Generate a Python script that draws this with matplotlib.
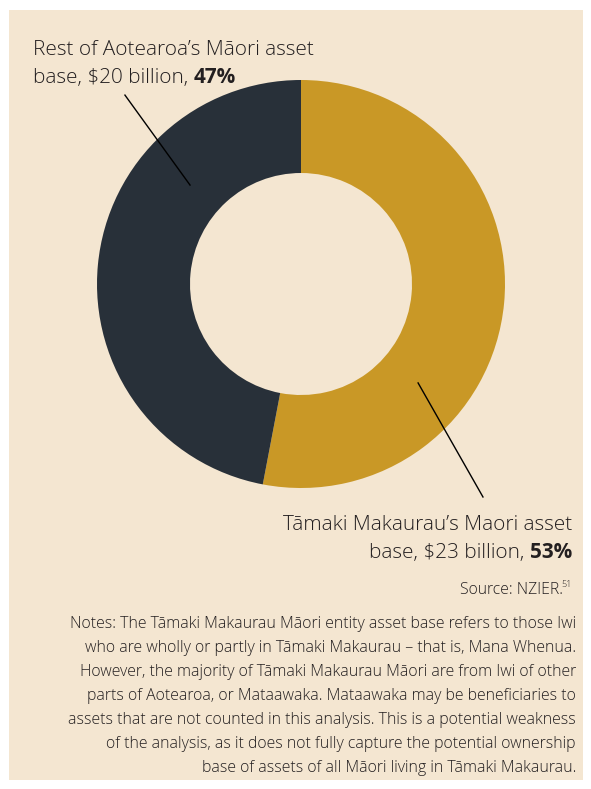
import matplotlib
matplotlib.use("Agg")
import matplotlib.pyplot as plt
from matplotlib.patches import Rectangle

# Asset base split (NZ$ billion and share of total, %)
segments = ["Tāmaki Makaurau", "Rest of Aotearoa"]
values = [23, 20]
shares = [53, 47]
colors = ["#C99826", "#283039"]

BG = "#F4E6D1"
W, H = 591, 789
fig = plt.figure(figsize=(W / 100, H / 100), dpi=100)
fig.patch.set_facecolor("white")
fig.add_artist(Rectangle((9 / W, 1 - 780 / H), 574 / W, 770 / H,
                         transform=fig.transFigure, facecolor=BG,
                         edgecolor="none", zorder=0))

FONT = ["Open Sans", "DejaVu Sans"]
TXT = "#231F20"
LIGHT = "light"

cx, cy, r = 301, 284, 204
ax = fig.add_axes([(cx - r) / W, (H - cy - r) / H, 2 * r / W, 2 * r / H])
ax.set_facecolor("none")
ax.pie(shares, colors=colors, startangle=90, counterclock=False,
       radius=1.0, wedgeprops=dict(width=1 - 111 / 204, edgecolor="none"))
ax.set_xlim(-1, 1)
ax.set_ylim(-1, 1)
ax.set_aspect("equal")
ax.axis("off")

# leader lines
ax.plot([-0.863, -0.544], [0.926, 0.485], color="black", lw=1.0,
        clip_on=False)
ax.plot([0.574, 0.892], [-0.485, -1.044], color="black", lw=1.0,
        clip_on=False)


def px(x, y):
    return x / W, 1 - y / H


lab_size = 14.95
fig.text(*px(33, 55), "Rest of Aotearoa’s Māori asset", fontsize=lab_size,
         family=FONT, color=TXT, ha="left", va="baseline", weight=LIGHT)
t = fig.text(*px(33, 83), f"base, ${values[1]} billion, ", fontsize=lab_size,
             family=FONT, color=TXT, ha="left", va="baseline", weight=LIGHT)
fig.canvas.draw()
bb = t.get_window_extent()
fig.text(bb.x1 / W, 1 - 83 / H, f"{shares[1]}%", fontsize=lab_size,
         family=FONT, color=TXT, ha="left", va="baseline", weight="bold")

fig.text(*px(572, 530), "Tāmaki Makaurau’s Maori asset", fontsize=lab_size,
         family=FONT, color=TXT, ha="right", va="baseline", weight=LIGHT)
b = fig.text(*px(572, 558), f"{shares[0]}%", fontsize=lab_size,
             family=FONT, color=TXT, ha="right", va="baseline", weight="bold")
fig.canvas.draw()
bb = b.get_window_extent()
fig.text(bb.x0 / W, 1 - 558 / H, f"base, ${values[0]} billion, ",
         fontsize=lab_size, family=FONT, color=TXT, ha="right",
         va="baseline", weight=LIGHT)

fig.text(*px(563, 594), "Source: NZIER.", fontsize=11.3, family=FONT,
         color=TXT, ha="right", va="baseline", weight=LIGHT)
fig.text(*px(572, 587), "51", fontsize=6.5, family=FONT, color=TXT,
         ha="right", va="baseline", weight=LIGHT)

notes = [
    "Notes: The Tāmaki Makaurau Māori entity asset base refers to those Iwi",
    "who are wholly or partly in Tāmaki Makaurau – that is, Mana Whenua.",
    "However, the majority of Tāmaki Makaurau Māori are from Iwi of other",
    "parts of Aotearoa, or Mataawaka. Mataawaka may be beneficiaries to",
    "assets that are not counted in this analysis. This is a potential weakness",
    "of the analysis, as it does not fully capture the potential ownership",
    "base of assets of all Māori living in Tāmaki Makaurau.",
]
for i, line in enumerate(notes):
    fig.text(*px(576, 628 + 24 * i), line, fontsize=11.4, family=FONT,
             color=TXT, ha="right", va="baseline", weight=LIGHT)

fig.savefig("out.png", dpi=100, facecolor="white")
